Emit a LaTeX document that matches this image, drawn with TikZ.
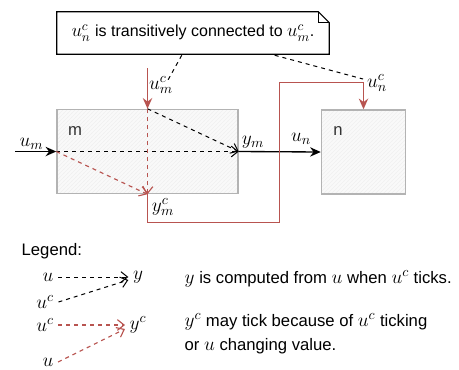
\RequirePackage{fix-cm}
\documentclass[tikz,border=0pt]{standalone}
\usepackage{fontspec}
\setmainfont{Liberation Sans}
\usepackage{xcolor}
\usepackage{tikz}
\usetikzlibrary{arrows.meta,positioning,calc,patterns}
\DeclareMathSizes{12.5}{14.5}{10.5}{8.5}
\DeclareMathSizes{12}{14}{10}{8}

\definecolor{tickred}{HTML}{B85450}
\definecolor{blockgray}{HTML}{B3B3B3}

\begin{document}
\begin{tikzpicture}[x=0.75pt,y=-0.75pt,font=\fontsize{12.5}{18}\selectfont,
    block/.style={draw=blockgray,line width=1.1pt,pattern=north east lines,
      pattern color=gray!12,preaction={fill=gray!5}},
    sig/.style={line width=1pt,-{Stealth[length=8pt,width=7pt]}},
    ticksig/.style={sig,draw=tickred,line width=1.1pt},
    dep/.style={dashed,line width=0.75pt,-{Straight Barb[length=5pt,width=8pt]}},
    tickdep/.style={dep,draw=tickred,line width=0.85pt},
    lead/.style={dashed,line width=0.75pt}]
        \useasboundingbox (0,0) rectangle (459,369);

        % Blocks
        \node[block,minimum width=135.75pt,minimum height=63pt] (m) at (147.5,151.5) {};
        \node[block,minimum width=63pt,minimum height=63pt] (n) at (363.5,152) {};
        \node[text=black!80] (mlab) at (75,131) {m};
        \node[text=black!80] (nlab) at (338,131) {n};

        % Note
        \node[minimum width=204pt,minimum height=31.5pt,inner sep=0pt] (note) at (193,33) {};
        \draw[line width=0.8pt,fill=white] (note.north west) -- ($(note.north east)+(-11,0)$)
          -- ($(note.north east)+(0,11)$) -- (note.south east) -- (note.south west) -- cycle;
        \draw[line width=0.6pt] ($(note.north east)+(-11,0)$) -- ($(note.north east)+(-11,11)$)
          -- ($(note.north east)+(0,11)$);
        \node[inner sep=0pt,font=\fontsize{12}{14}\selectfont] (notetxt) at (note)
          {$u_n^c$ is transitively connected to $u_m^c$.};

        % Free ends
        \coordinate (umin) at (15,151.5);   % u_m source
        \coordinate (umc) at (147.5,68);    % u_m^c source
        \coordinate (hop) at (279.5,82.5);  % red wire corner
        \coordinate (leadm) at (168,80);
        \coordinate (leadn) at (363,79);

        % Leader lines
        \draw[lead] (note.south west) ++(125,1) -- (leadm);
        \draw[lead] (note.south west) ++(218,1) -- (leadn);

        % Signals
        \draw[sig] (umin) -- (m.west) node[pos=0.4,above=-2pt] {$u_m$};
        \draw[sig] (m.east) -- (n.west);
        \draw[ticksig] (umc) -- (m.north);
        \draw[ticksig] (m.south) -- ++(0,28) -| (hop) -| (n.north);

        % Dependencies inside m
        \draw[dep] (m.west) -- (m.east);
        \draw[dep] (m.north) -- (m.east);
        \draw[tickdep] (m.north) -- (m.south);
        \draw[tickdep] (m.west) -- (m.south);

        % Labels
        \node (ymlab) at (253,142) {$y_m$};
        \node (unlab) at (301,139) {$u_n$};
        \node (umclab) at (161,85) {$u_m^c$};
        \node (ymclab) at (163,207) {$y_m^c$};
        \node (unclab) at (377,83) {$u_n^c$};

        % Legend
        \node[anchor=west] (legend) at (17,251) {Legend:};
        \node (lu) at (48,277) {$u$};
        \node (luc) at (45,302) {$u^c$};
        \node (ly) at (138,277) {$y$};
        \draw[dep] (lu) -- (ly.west);
        \draw[dep] (luc.east) -- ($(ly.west)+(0,3)$);
        \node[anchor=west] (ltxt) at (180,279) {$y$ is computed from $u$ when $u^c$ ticks.};

        \node (ruc) at (45,325) {$u^c$};
        \node (ru) at (48,362) {$u$};
        \node (ryc) at (138,325) {$y^c$};
        \draw[tickdep] (ruc) -- (ryc.west);
        \draw[tickdep] (ru.east) -- ($(ryc.west)+(0,4)$);
        \node[anchor=west,align=left] (rtxt) at (180,334)
          {$y^c$ may tick because of $u^c$ ticking\\or $u$ changing value.};
\end{tikzpicture}
\end{document}
